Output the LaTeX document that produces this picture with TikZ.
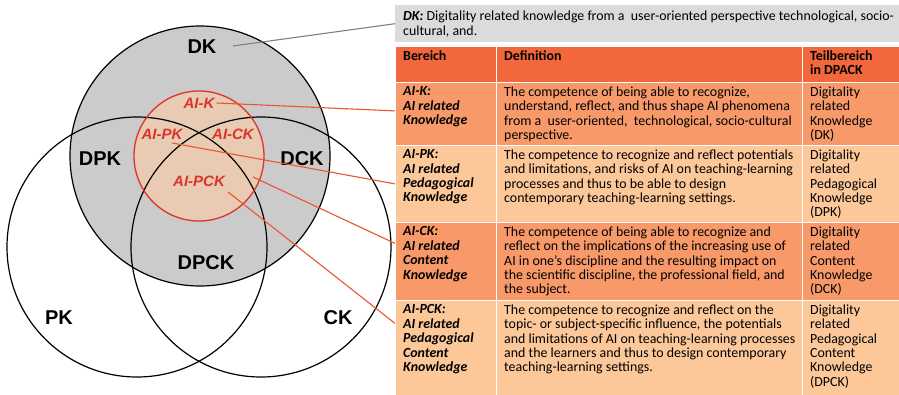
\documentclass[tikz,border=0pt]{standalone}
\usepackage{fontspec}
\setmainfont{Carlito}
\newfontfamily\vennfont{Liberation Sans}
\usetikzlibrary{positioning}
\definecolor{HeadOrange}{HTML}{F2673C}
\definecolor{RowDark}{HTML}{F8996A}
\definecolor{RowLight}{HTML}{FCC89A}
\definecolor{BoxGrey}{HTML}{DBDBDB}
\definecolor{VennGrey}{HTML}{CBCBCB}
\definecolor{AIFill}{HTML}{E8CBB2}
\definecolor{AIRed}{HTML}{DC332A}
\definecolor{LeadRed}{HTML}{EA5630}
\newcommand\tabfont{\fontsize{13.9}{14.4}\selectfont}

\begin{document}
\begin{tikzpicture}[x=1pt,y=-1pt,
  vennlabel/.style={font=\vennfont\bfseries\fontsize{20}{24}\selectfont,inner sep=1pt},
  ailabel/.style={font=\vennfont\bfseries\itshape\fontsize{15}{18}\selectfont,
                  text=AIRed,inner sep=2pt},
  cell/.style={anchor=north west,draw=white,line width=0.8pt,inner sep=0pt,
               minimum height=#1},
  celltext/.style={anchor=north west,align=left,inner xsep=8pt,inner ysep=4.5pt,
                   font=\tabfont},
  headtext/.style={celltext,font=\tabfont\bfseries},
  termtext/.style={celltext,font=\tabfont\bfseries\itshape},
  lead/.style={line width=1.1pt,LeadRed}
]
  \useasboundingbox[fill=white] (0,0) rectangle (899,394);

  % Venn part
  \fill[VennGrey] (200,156) circle (130);
  \fill[AIFill] (199,156) circle (65);
  \draw[line width=1.2pt] (200,156) circle (130);
  \draw[line width=1.2pt] (137,247) circle (130);
  \draw[line width=1.2pt] (261,247) circle (130);
  \draw[AIRed,line width=1.3pt] (199,156) circle (65);

  \node[vennlabel] (dk) at (202,47) {DK};
  \node[vennlabel] (dpk) at (100,159) {DPK};
  \node[vennlabel] (dck) at (302,159) {DCK};
  \node[vennlabel] (dpck) at (206,263) {DPCK};
  \node[vennlabel] (pk) at (59,318) {PK};
  \node[vennlabel] (ck) at (338,318) {CK};

  \node[ailabel] (aik) at (199,103) {AI-K};
  \node[ailabel] (aipk) at (162,134) {AI-PK};
  \node[ailabel] (aick) at (233,134) {AI-CK};
  \node[ailabel] (aipck) at (199,181) {AI-PCK};

  % grey DK note
  \node[anchor=north west,fill=BoxGrey,minimum width=504pt,minimum height=37pt,
        inner sep=0pt] (dkbox) at (395,5) {};
  \node[celltext,inner ysep=6pt] (dkt) at (dkbox.north west)
    {\textbf{\textit{DK:}} Digitality related knowledge from a~ user-oriented perspective technological, socio-\\
     cultural, and.};

  % table: header
  \node[cell=36pt,fill=HeadOrange,minimum width=101pt] (h1) at (395,46) {};
  \node[cell=36pt,fill=HeadOrange,minimum width=306pt] (h2) at (496,46) {};
  \node[cell=36pt,fill=HeadOrange,minimum width=97pt] (h3) at (802,46) {};
  \node[headtext] (h1t) at (h1.north west) {Bereich};
  \node[headtext] (h2t) at (h2.north west) {Definition};
  \node[headtext] (h3t) at (h3.north west) {Teilbereich\\in DPACK};

  % AI-K
  \node[cell=63pt,fill=RowDark,minimum width=101pt] (k1) at (395,82) {};
  \node[cell=63pt,fill=RowDark,minimum width=306pt] (k2) at (496,82) {};
  \node[cell=63pt,fill=RowDark,minimum width=97pt] (k3) at (802,82) {};
  \node[termtext] (k1t) at (k1.north west) {AI-K:\\AI related\\Knowledge};
  \node[celltext] (k2t) at (k2.north west)
    {The competence of being able to recognize,\\
     understand, reflect, and thus shape AI phenomena\\
     from a~ user-oriented,~ technological, socio-cultural\\
     perspective.};
  \node[celltext] (k3t) at (k3.north west) {Digitality\\related\\Knowledge\\(DK)};

  % AI-PK
  \node[cell=77pt,fill=RowLight,minimum width=101pt] (p1) at (395,145) {};
  \node[cell=77pt,fill=RowLight,minimum width=306pt] (p2) at (496,145) {};
  \node[cell=77pt,fill=RowLight,minimum width=97pt] (p3) at (802,145) {};
  \node[termtext] (p1t) at (p1.north west) {AI-PK:\\AI related\\Pedagogical\\Knowledge};
  \node[celltext] (p2t) at (p2.north west)
    {The competence to recognize and reflect potentials\\
     and limitations, and risks of AI on teaching-learning\\
     processes and thus to be able to design\\
     contemporary teaching-learning settings.};
  \node[celltext] (p3t) at (p3.north west)
    {Digitality\\related\\Pedagogical\\Knowledge\\(DPK)};

  % AI-CK
  \node[cell=78pt,fill=RowDark,minimum width=101pt] (c1) at (395,222) {};
  \node[cell=78pt,fill=RowDark,minimum width=306pt] (c2) at (496,222) {};
  \node[cell=78pt,fill=RowDark,minimum width=97pt] (c3) at (802,222) {};
  \node[termtext] (c1t) at (c1.north west) {AI-CK:\\AI related\\Content\\Knowledge};
  \node[celltext] (c2t) at (c2.north west)
    {The competence of being able to recognize and\\
     reflect on the implications of the increasing use of\\
     AI in one's discipline and the resulting impact on\\
     the scientific discipline, the professional field, and\\
     the subject.};
  \node[celltext] (c3t) at (c3.north west)
    {Digitality\\related\\Content\\Knowledge\\(DCK)};

  % AI-PCK
  \node[cell=96pt,fill=RowLight,minimum width=101pt] (pc1) at (395,300) {};
  \node[cell=96pt,fill=RowLight,minimum width=306pt] (pc2) at (496,300) {};
  \node[cell=96pt,fill=RowLight,minimum width=97pt] (pc3) at (802,300) {};
  \node[termtext] (pc1t) at (pc1.north west)
    {AI-PCK:\\AI related\\Pedagogical\\Content\\Knowledge};
  \node[celltext] (pc2t) at (pc2.north west)
    {The competence to recognize and reflect on the\\
     topic- or subject-specific influence, the potentials\\
     and limitations of AI on teaching-learning processes\\
     and the learners and thus to design contemporary\\
     teaching-learning settings.};
  \node[celltext] (pc3t) at (pc3.north west)
    {Digitality\\related\\Pedagogical\\Content\\Knowledge\\(DPCK)};

  % leader lines
  \coordinate (dkFoot) at (233,46);
  \coordinate (pkFoot) at (172,143);
  \coordinate (ckFoot) at (253,177);
  \coordinate (pckFoot) at (228,192);
  \draw[line width=1.1pt,gray] (dkFoot) -- (dkbox.west);
  \draw[lead] (aik.east) -- ([yshift=3pt]k1.west);
  \draw[lead] (pkFoot) -- (p1.west);
  \draw[lead] (ckFoot) -- ([yshift=18pt]c1.west);
  \draw[lead] (pckFoot) -- ([yshift=25pt]pc1.west);
\end{tikzpicture}
\end{document}
